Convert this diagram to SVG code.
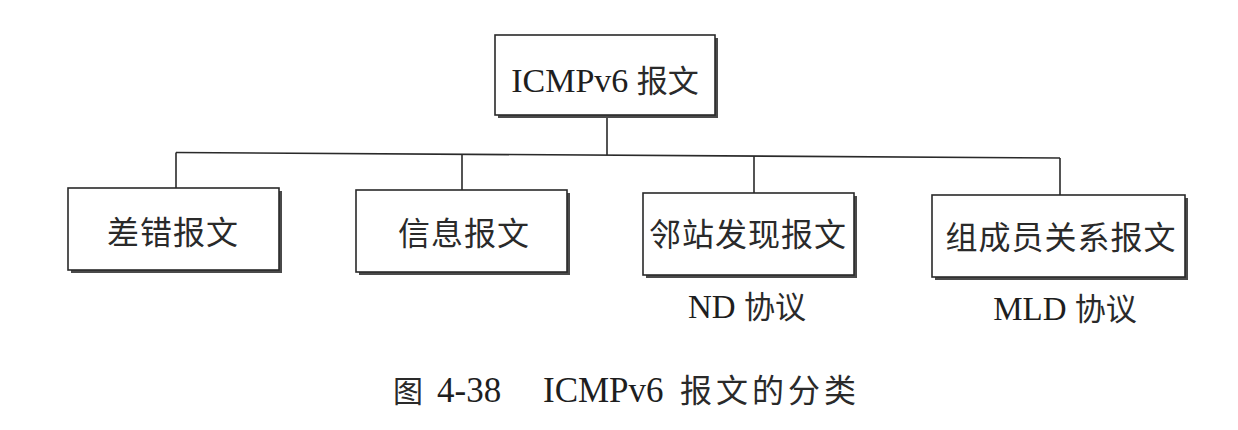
<svg xmlns="http://www.w3.org/2000/svg" width="1238" height="430" viewBox="0 0 1238 430">
  <style>
    .shadow { fill: #4a4a4a; }
    .box { fill: #ffffff; stroke: #2a2a2a; stroke-width: 1.6; }
    .conn { fill: none; stroke: #2a2a2a; stroke-width: 1.6; }
    .t { font-family: "Liberation Serif", "Noto Sans CJK SC", serif; fill: #1e1e1e; }
    .cjk { font-family: "Noto Sans CJK SC", "Liberation Serif", sans-serif; fill: #2a2a2a; }
  </style>
  <rect width="1238" height="430" fill="#ffffff"/>

  <g id="connectors">
    <path class="conn" d="M607 118 V155"/>
    <path class="conn" d="M176 152.5 L1060 158"/>
    <path class="conn" d="M176 152.5 V188"/>
    <path class="conn" d="M462 154.3 V190"/>
    <path class="conn" d="M754 156.1 V193"/>
    <path class="conn" d="M1060 158 V195"/>
  </g>

  <g id="node-root">
    <rect class="shadow" x="498" y="38" width="220" height="80"/>
    <rect class="box" x="495" y="35" width="220" height="80"/>
    <text class="t" x="605" y="92" text-anchor="middle" font-size="34">ICMPv6 <tspan class="cjk" font-size="31">报文</tspan></text>
  </g>

  <g id="node-error">
    <rect class="shadow" x="71" y="191" width="211" height="82"/>
    <rect class="box" x="68" y="188" width="211" height="82"/>
    <text class="cjk" x="173" y="244" text-anchor="middle" font-size="32" letter-spacing="1">差错报文</text>
  </g>

  <g id="node-info">
    <rect class="shadow" x="359" y="193" width="211" height="82"/>
    <rect class="box" x="356" y="190" width="211" height="82"/>
    <text class="cjk" x="464" y="245" text-anchor="middle" font-size="32" letter-spacing="1">信息报文</text>
  </g>

  <g id="node-nd">
    <rect class="shadow" x="646" y="196" width="211" height="82"/>
    <rect class="box" x="643" y="193" width="211" height="82"/>
    <text class="cjk" x="748" y="246" text-anchor="middle" font-size="32" letter-spacing="1">邻站发现报文</text>
    <text class="t" x="747" y="318" text-anchor="middle" font-size="33">ND <tspan class="cjk" font-size="31">协议</tspan></text>
  </g>

  <g id="node-mld">
    <rect class="shadow" x="935" y="198" width="253" height="82"/>
    <rect class="box" x="932" y="195" width="253" height="82"/>
    <text class="cjk" x="1061" y="249" text-anchor="middle" font-size="32" letter-spacing="1">组成员关系报文</text>
    <text class="t" x="1065" y="320" text-anchor="middle" font-size="33">MLD <tspan class="cjk" font-size="31">协议</tspan></text>
  </g>

  <g id="caption">
    <text class="t" y="402" font-size="35"><tspan class="cjk" x="393" font-size="30">图</tspan><tspan x="437">4-38</tspan><tspan x="543">ICMPv6</tspan><tspan class="cjk" x="680" font-size="32" letter-spacing="4">报文的分类</tspan></text>
  </g>
</svg>
